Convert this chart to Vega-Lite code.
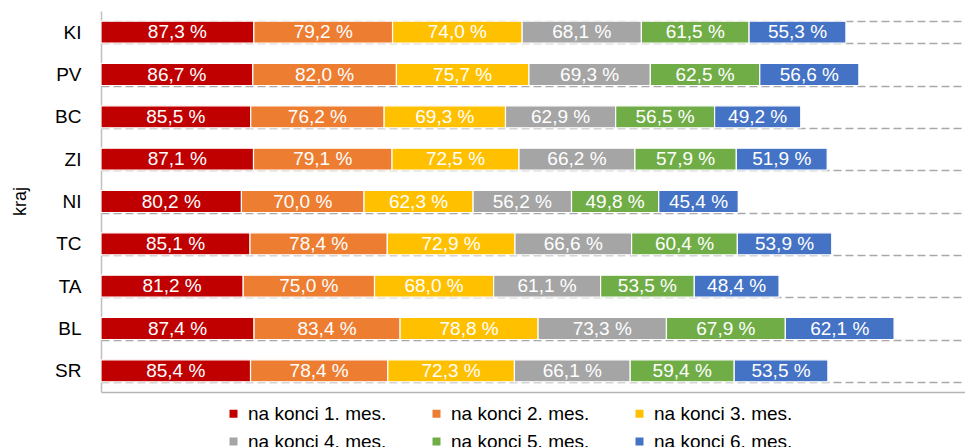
{
  "$schema": "https://vega.github.io/schema/vega-lite/v6.json",
  "autosize": "none",
  "width": 864,
  "height": 381,
  "padding": {"left": 101, "top": 11, "right": 0, "bottom": 55},
  "background": "white",
  "data": {
    "values": [
      {"kraj": "KI", "m": 1, "mes": "na konci 1. mes.", "val": 87.3},
      {"kraj": "KI", "m": 2, "mes": "na konci 2. mes.", "val": 79.2},
      {"kraj": "KI", "m": 3, "mes": "na konci 3. mes.", "val": 74.0},
      {"kraj": "KI", "m": 4, "mes": "na konci 4. mes.", "val": 68.1},
      {"kraj": "KI", "m": 5, "mes": "na konci 5. mes.", "val": 61.5},
      {"kraj": "KI", "m": 6, "mes": "na konci 6. mes.", "val": 55.3},
      {"kraj": "PV", "m": 1, "mes": "na konci 1. mes.", "val": 86.7},
      {"kraj": "PV", "m": 2, "mes": "na konci 2. mes.", "val": 82.0},
      {"kraj": "PV", "m": 3, "mes": "na konci 3. mes.", "val": 75.7},
      {"kraj": "PV", "m": 4, "mes": "na konci 4. mes.", "val": 69.3},
      {"kraj": "PV", "m": 5, "mes": "na konci 5. mes.", "val": 62.5},
      {"kraj": "PV", "m": 6, "mes": "na konci 6. mes.", "val": 56.6},
      {"kraj": "BC", "m": 1, "mes": "na konci 1. mes.", "val": 85.5},
      {"kraj": "BC", "m": 2, "mes": "na konci 2. mes.", "val": 76.2},
      {"kraj": "BC", "m": 3, "mes": "na konci 3. mes.", "val": 69.3},
      {"kraj": "BC", "m": 4, "mes": "na konci 4. mes.", "val": 62.9},
      {"kraj": "BC", "m": 5, "mes": "na konci 5. mes.", "val": 56.5},
      {"kraj": "BC", "m": 6, "mes": "na konci 6. mes.", "val": 49.2},
      {"kraj": "ZI", "m": 1, "mes": "na konci 1. mes.", "val": 87.1},
      {"kraj": "ZI", "m": 2, "mes": "na konci 2. mes.", "val": 79.1},
      {"kraj": "ZI", "m": 3, "mes": "na konci 3. mes.", "val": 72.5},
      {"kraj": "ZI", "m": 4, "mes": "na konci 4. mes.", "val": 66.2},
      {"kraj": "ZI", "m": 5, "mes": "na konci 5. mes.", "val": 57.9},
      {"kraj": "ZI", "m": 6, "mes": "na konci 6. mes.", "val": 51.9},
      {"kraj": "NI", "m": 1, "mes": "na konci 1. mes.", "val": 80.2},
      {"kraj": "NI", "m": 2, "mes": "na konci 2. mes.", "val": 70.0},
      {"kraj": "NI", "m": 3, "mes": "na konci 3. mes.", "val": 62.3},
      {"kraj": "NI", "m": 4, "mes": "na konci 4. mes.", "val": 56.2},
      {"kraj": "NI", "m": 5, "mes": "na konci 5. mes.", "val": 49.8},
      {"kraj": "NI", "m": 6, "mes": "na konci 6. mes.", "val": 45.4},
      {"kraj": "TC", "m": 1, "mes": "na konci 1. mes.", "val": 85.1},
      {"kraj": "TC", "m": 2, "mes": "na konci 2. mes.", "val": 78.4},
      {"kraj": "TC", "m": 3, "mes": "na konci 3. mes.", "val": 72.9},
      {"kraj": "TC", "m": 4, "mes": "na konci 4. mes.", "val": 66.6},
      {"kraj": "TC", "m": 5, "mes": "na konci 5. mes.", "val": 60.4},
      {"kraj": "TC", "m": 6, "mes": "na konci 6. mes.", "val": 53.9},
      {"kraj": "TA", "m": 1, "mes": "na konci 1. mes.", "val": 81.2},
      {"kraj": "TA", "m": 2, "mes": "na konci 2. mes.", "val": 75.0},
      {"kraj": "TA", "m": 3, "mes": "na konci 3. mes.", "val": 68.0},
      {"kraj": "TA", "m": 4, "mes": "na konci 4. mes.", "val": 61.1},
      {"kraj": "TA", "m": 5, "mes": "na konci 5. mes.", "val": 53.5},
      {"kraj": "TA", "m": 6, "mes": "na konci 6. mes.", "val": 48.4},
      {"kraj": "BL", "m": 1, "mes": "na konci 1. mes.", "val": 87.4},
      {"kraj": "BL", "m": 2, "mes": "na konci 2. mes.", "val": 83.4},
      {"kraj": "BL", "m": 3, "mes": "na konci 3. mes.", "val": 78.8},
      {"kraj": "BL", "m": 4, "mes": "na konci 4. mes.", "val": 73.3},
      {"kraj": "BL", "m": 5, "mes": "na konci 5. mes.", "val": 67.9},
      {"kraj": "BL", "m": 6, "mes": "na konci 6. mes.", "val": 62.1},
      {"kraj": "SR", "m": 1, "mes": "na konci 1. mes.", "val": 85.4},
      {"kraj": "SR", "m": 2, "mes": "na konci 2. mes.", "val": 78.4},
      {"kraj": "SR", "m": 3, "mes": "na konci 3. mes.", "val": 72.3},
      {"kraj": "SR", "m": 4, "mes": "na konci 4. mes.", "val": 66.1},
      {"kraj": "SR", "m": 5, "mes": "na konci 5. mes.", "val": 59.4},
      {"kraj": "SR", "m": 6, "mes": "na konci 6. mes.", "val": 53.5}
    ]
  },
  "transform": [
    {"stack": "val", "groupby": ["kraj"], "sort": [{"field": "m", "order": "ascending"}], "as": ["x0", "x1"]},
    {"calculate": "(datum.x0 + datum.x1) / 2", "as": "xmid"},
    {"calculate": "replace(format(datum.val, '.1f'), '.', ',') + ' %'", "as": "lbl"}
  ],
  "encoding": {
    "y": {
      "field": "kraj",
      "type": "nominal",
      "sort": ["KI", "PV", "BC", "ZI", "NI", "TC", "TA", "BL", "SR"],
      "scale": {"paddingInner": 0.48, "paddingOuter": 0.24},
      "axis": {
        "title": "kraj",
        "titleFont": "Liberation Sans",
        "titleFontSize": 18,
        "titleFontWeight": "normal",
        "titleColor": "#000000",
        "titleAngle": -90,
        "titleX": -81,
        "titleY": 190,
        "titleAlign": "center",
        "titleBaseline": "middle",
        "labelFont": "Liberation Sans",
        "labelFontSize": 19,
        "labelColor": "#000000",
        "labelPadding": 20,
        "ticks": false,
        "tickBand": "extent",
        "grid": true,
        "gridColor": "#a9a9a9",
        "gridDash": [8, 4],
        "gridWidth": 1.5,
        "domain": true,
        "domainColor": "#c0c0c0",
        "domainWidth": 1.5
      }
    }
  },
  "layer": [
    {
      "mark": {"type": "bar", "stroke": "white", "strokeWidth": 1.2},
      "encoding": {
        "x": {
          "field": "x0",
          "type": "quantitative",
          "scale": {"domain": [0, 493.4], "nice": false, "zero": true},
          "axis": {"labels": false, "ticks": false, "grid": false, "title": null, "domain": true, "domainColor": "#b5b5b5", "domainWidth": 1.5}
        },
        "x2": {"field": "x1"},
        "color": {
          "field": "mes",
          "type": "nominal",
          "scale": {
            "domain": ["na konci 1. mes.", "na konci 2. mes.", "na konci 3. mes.", "na konci 4. mes.", "na konci 5. mes.", "na konci 6. mes."],
            "range": ["#c00000", "#ed7d31", "#ffc000", "#a5a5a5", "#70ad47", "#4472c4"]
          },
          "legend": {
            "title": null,
            "orient": "none",
            "legendX": 123,
            "legendY": 393,
            "direction": "horizontal",
            "columns": 3,
            "columnPadding": 40,
            "rowPadding": 8,
            "padding": 0,
            "symbolType": "square",
            "symbolSize": 64,
            "symbolStrokeWidth": 0,
            "labelFont": "Liberation Sans",
            "labelFontSize": 19,
            "labelColor": "#000000",
            "labelOffset": 5
          }
        }
      }
    },
    {
      "mark": {"type": "text", "color": "white", "font": "Liberation Sans", "fontSize": 19, "align": "center", "baseline": "middle"},
      "encoding": {
        "x": {"field": "xmid", "type": "quantitative"},
        "text": {"field": "lbl", "type": "nominal"}
      }
    }
  ],
  "config": {"view": {"stroke": null}}
}
